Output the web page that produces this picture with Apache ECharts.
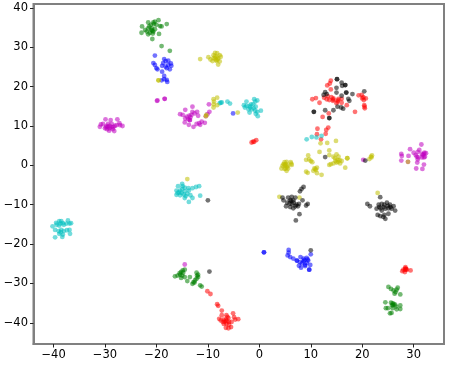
<!DOCTYPE html>
<html><head><meta charset="utf-8">
<style>html,body{margin:0;padding:0;background:#fff}#c{width:449px;height:365px;filter:blur(0.35px)}</style>
<script src="https://cdn.jsdelivr.net/npm/echarts@6/dist/echarts.min.js"></script>
</head><body><div id="c"></div>
<script>
const xTicks=[-40,-30,-20,-10,0,10,20,30];
const yTicks=[-40,-30,-20,-10,0,10,20,30,40];
const greenPoints=[[-22.8,35.3],[-21.6,36.3],[-20.6,36.3],[-20.3,36.5],[-19.6,36.9],[-18,35.9],[-19.3,35.4],[-19,35.3],[-21.6,34.8],[-22.2,34.4],[-22.9,33.7],[-21.9,34],[-21.3,33.7],[-20.6,34],[-20.3,34.6],[-19.5,33.4],[-20.8,32.1],[-21.6,33.3],[-20.9,34.8],[-20,35.7],[-21.1,35.7],[-20.5,35.9],[-20.8,34.2],[-21.4,35.3],[-20.7,33.5],[-21,34.4],[-19,30.3],[-17.4,29.1],
[-16.4,-28.2],[-15.9,-28],[-15.4,-27.8],[-14.9,-26.7],[-14.5,-26.5],[-15.2,-27.1],[-14.8,-27.3],[-15.2,-28.6],[-14.5,-28.4],[-14,-29.4],[-13.5,-28.4],[-12.8,-29.7],[-12.2,-27.3],[-11.9,-28.4],[-12.2,-28.8],[-12.5,-29.2],[-13,-30.1],[-11.5,-30.5],[-11.2,-30.8],[-11.9,-27.8],[-15.5,-27.4],[-15,-28],[-12.1,-28],[-12.6,-29.8],
[25.1,-30.9],[25.6,-31.4],[26.1,-31.8],[26.9,-31.1],[26.7,-31.6],[26.5,-32.2],[26.3,-32.6],[27.4,-32.8],[24.5,-34.8],[25.6,-34.9],[26.1,-35.2],[25.8,-35.6],[26.4,-35.4],[27.4,-35.6],[27.4,-36.5],[26.7,-36.6],[24.6,-36.3],[25,-36.3],[25.9,-36.3],[25.4,-37.6],[25.7,-37.5],[26,-35.5],[25.9,-35.1],[26.6,-35.9]];
const bluePoints=[[-20.3,27.9],[-20.6,26],[-20.3,25.5],[-20,24.7],[-19.8,24.4],[-18.7,26],[-18.5,27],[-17.7,26.6],[-18.2,26.5],[-18.9,25.3],[-18.2,25.1],[-17.7,25.5],[-17.2,25.9],[-17.1,25.3],[-17.4,24.4],[-18,24.7],[-18.9,23.8],[-18.5,22.7],[-18.5,21.9],[-19,21.6],[-18,21.7],[-17.9,21.2],[-5.1,13.2],
[0.9,-22.1],[0.9,-22.1],[5.7,-21.5],[5.7,-22.2],[5.5,-22.9],[6,-23.3],[6.6,-23.7],[7.3,-24.2],[7.3,-24.2],[8,-23.3],[8.6,-23.7],[9.2,-23.5],[7.9,-24.6],[8.6,-24.4],[9.5,-24.2],[10,-22.6],[8.9,-25.3],[9.9,-25.3],[8.1,-26],[7.7,-25.5],[8.9,-25.6],[9.7,-26.5],[9.2,-24.8],[8.7,-24.1],[9.4,-23.9],[8.3,-24.9],[9.7,-26.5]];
const magentaPoints=[[-19.8,16.5],[-18.4,16.9],[-19.9,16.4],[-18.4,16.9],
[-30.8,10.4],[-31,9.8],[-29.9,11.7],[-28.9,11.5],[-27.6,11.7],[-30.4,10.5],[-29.7,10],[-29.4,10.5],[-29.1,10],[-28.7,10.5],[-28.1,10],[-27.2,10.7],[-26.6,10],[-27.8,10.2],[-30,9.4],[-29.6,9.2],[-29.1,9.4],[-28.5,9.2],[-28.2,8.7],[-29.2,8.8],[-29.8,9.7],[-28.7,9.7],[-28.4,9.7],[-27.1,10.2],[-29.4,9.8],
[-15.4,13],[-14.9,12.8],[-14.4,14.1],[-13,14.9],[-13,13.6],[-12.6,13.2],[-12.1,13.6],[-11.9,12.6],[-13.2,12.8],[-14.1,12.4],[-13.6,12.6],[-14.4,11.9],[-13.8,11.7],[-13.5,11.5],[-13.5,11.5],[-13.4,12.2],[-14.5,10.9],[-13.7,10.3],[-12.8,9.8],[-12.2,10.5],[-11.7,10.7],[-11.2,11.1],[-11.5,10.3],[-10.6,10.8],[-9.8,15.5],[-9.7,13.6],[-10.1,13],[-10.4,12.5],
[31.5,5.3],[29.3,4.1],[31.1,3.9],[30.8,3.4],[30,3.2],[32.1,3.2],[32.4,3.1],[31.6,2.9],[30.4,2.6],[27.6,2.9],[27.7,2.4],[29,2.4],[30.6,2.2],[31.6,2],[32,2],[32.2,2.2],[30.8,1.5],[27.6,1.2],[30.7,0.7],[32,0.2],[30.5,-0.8],[31.7,-0.9],[28.9,0.9],[20.2,1.4],[-14.5,-25.2],[31.8,2.6],[32,2.9],[30.9,2]];
const yellowPoints=[[-19.6,21.6],[-19.6,21.6],[-10.4,12.5],[-10.3,12.8],[-8.9,16.8],[-8.2,17.2],[-8.9,15.5],[-8.2,15.3],[-8.9,14.7],[-8.8,16.2],
[-11.5,27],[-9.9,27.5],[-9.5,26.9],[-9.1,26.5],[-8.9,28],[-8.6,28.6],[-8.2,28.5],[-7.7,28],[-7.5,27.6],[-8.6,27.2],[-8,27.2],[-8.3,27.6],[-8.9,27.2],[-8.3,26.5],[-7.7,26.4],[-8,25.6],[-8.4,26.8],[-8.6,27.7],[-8.1,26.9],[-14,-3.5],[-4.2,13.4],
[11.9,5.6],[13.2,5.7],[14.9,6.2],
[4.9,0.8],[5.3,0.9],[6.1,0.8],[6.3,0.1],[4.5,-0.1],[5,-0.1],[5.5,-0.1],[4.3,-0.8],[4.9,-0.9],[5.3,-1.4],[5.6,-0.8],[4.7,0.3],[5.2,0.3],[5.1,-0.8],[4.9,0.2],[5.4,-0.4],[6.2,0.4],
[9.5,2.5],[9.1,1.4],[9.7,1.5],[10,1.1],[10.3,0.8],[11.7,3.4],[13.6,3.8],[13.6,2.6],[10.7,-0.8],[11,-1.2],[11.2,-0.6],[9.1,-1.6],[9.4,-1.9],[10.5,-1.4],[12.1,-2.4],[11.2,-2],[10.9,-0.9],
[14.4,2.2],[15,2.8],[14.7,1.8],[15.2,1.4],[16,1.1],[15,0.7],[15.7,0.5],[14.4,0.5],[13.6,0.1],[13.9,0.3],[17.1,1.8],[17.1,1.8],[16.7,-0.6],[15.4,2.2],[14.8,1.1],[15.3,0.9],[15.6,1.3],
[21.7,2.2],[21.9,2.5],[21.4,1.6],[21.8,2],[28.9,0.9],[3.9,-8],[7.8,-8.2],[23,-7]];
const cyanPoints=[[-7.7,15.8],[-7.3,16],[-7.5,15.9],[-6.2,16.2],[-5.7,15.7],[-2.5,16.2],[-3,15.3],[-1,16.8],[-0.4,16.5],[-0.8,16.2],[-1.6,15.5],[-2.5,15.1],[-2.8,14.7],[-1.8,14.7],[-0.7,14.9],[-2.1,14.2],[-0.8,13.9],[0.3,13.9],[-0.4,13.6],[-1.9,13.4],[-0.7,13.1],[-0.3,12.5],[-1.2,15.5],[-1.5,14.2],[-1.9,15.1],[-1.1,14.5],
[9.2,6.6],[10.2,7.2],[11.1,7.1],[12.1,7.5],
[-15,-4.7],[-15.8,-5.3],[-14.9,-5.3],[-14.5,-5.7],[-13.8,-5.8],[-13,-5.8],[-12.3,-5.5],[-11.7,-5.3],[-16.1,-6.4],[-15.4,-6.4],[-15.9,-7],[-15.1,-7],[-14.5,-6.6],[-14,-7.2],[-16.1,-7.5],[-15.4,-7.6],[-14.3,-7.8],[-13.4,-7.6],[-13,-8.3],[-14.5,-8.3],[-13.7,-9.3],[-11.5,-7.7],[-15.6,-6.9],[-15,-6],[-14.7,-7.4],[-13.7,-6.4],
[-40.2,-15.5],[-39.5,-14.6],[-38.9,-14.2],[-38.5,-14.2],[-37.2,-14],[-36.6,-14.7],[-39.4,-15.1],[-38.7,-14.8],[-38,-15.1],[-37.5,-14.8],[-36.9,-14.8],[-39.7,-16.4],[-39,-16.7],[-38.6,-17],[-38,-16.7],[-37.4,-16.5],[-36.9,-16.4],[-36.8,-17.4],[-38.2,-17.6],[-38.3,-18.2],[-39.7,-18.3],[-38.9,-17.4],[-38.5,-16.4],[-38.2,-14.7],[-38.9,-15.3]];
const redPoints=[[-1.5,5.8],[-1,6],[-0.6,6.4],[-1.2,6],
[13.9,21.5],[13.7,20.8],[13.2,20.3],[13.9,19.3],[10.3,16.8],[11,17.1],[11.7,15.9],[12.6,17.2],[13.1,16.8],[13.6,16.6],[14.4,17],[14.3,16.4],[15,15.8],[15.4,16.9],[16,16.9],[16,15.9],[15.2,16.2],[17,15.3],[19.3,17.8],[19.9,17.9],[20,17],[20.7,17],[20.3,16.6],[20.4,15.3],[20.5,14.5],[18.6,13.6],[13.5,13.2],[12.3,12.3],[14,17.3],[14.4,16.7],[13.3,17.6],[15.3,16.5],[20.2,17.3],[20.45,14.9],
[11.3,9.3],[13.4,9.6],[13,9],[11.2,7.9],[12.9,8],[12,6.6],
[-10.1,-32],[-9.5,-32.7],[-8.2,-35.3],[-8,-35.7],[-7.3,-36.9],[-7.3,-38.1],[-7.8,-39],[-7.5,-39.4],[-7.1,-39.8],[-6.9,-39.2],[-6.9,-40.3],[-5.1,-37.6],[-6.4,-38.1],[-4.9,-38.6],[-6,-38.8],[-4.1,-39.1],[-4.7,-39.2],[-6.5,-39.2],[-5.9,-39.8],[-5.4,-39.8],[-6.4,-40.3],[-5.5,-41.1],[-6,-41.4],[-6.5,-41.3],[-5.9,-40.5],[-6.3,-39.6],[-6.7,-39.7],[-6.2,-38.5],
[28.4,-25.9],[28,-26.5],[28.7,-26.5],[29.4,-26.7],[28.3,-27.1],[27.8,-26.9],[28.4,-26.5],[28.4,-26.2],[28.5,-26.4]];
const blackPoints=[[15.1,21.9],[16,21],[16.7,20.4],[16.1,20.2],[15,19.7],[12.8,18.6],[12.5,17.9],[13.1,18.1],[15,18.5],[16.9,18.5],[16,17.7],[18.1,18.1],[17.3,16.9],[17.5,16.4],[20.4,18.8],[15.9,14.7],[15.2,14.9],[14.4,14],[16.3,14.4],[12.8,14],[10.6,13.6],[13.6,12],[15.1,21.9],[16.7,20.4],[16.9,18.5],[10.6,13.6],[13.6,12],
[12.8,2.1],[20.6,1.2],[-10,-8.9],[-9.7,-27],[10,-21.6],
[8.6,-5.5],[8.2,-6],[7.9,-6.6],[4.5,-8.2],[4.7,-8.9],[5.6,-8.2],[6.3,-8],[7,-8.2],[6,-8.9],[6.6,-8.9],[5.4,-9.5],[6.3,-9.8],[7,-10.4],[7.5,-10.4],[7.7,-9.8],[8.4,-8.9],[9.4,-9.8],[9.1,-10.2],[5.2,-10.4],[6,-10.6],[6.6,-10.9],[7.8,-12.4],[7.1,-14],[6.2,-9],[6.7,-9.5],[5.9,-9.7],[7.2,-10],
[23.5,-8.1],[21,-9.8],[21.5,-10.4],[23.2,-10],[22.8,-11],[23.3,-10.6],[23.8,-9.8],[24.3,-10],[24.8,-9.5],[25.4,-10],[26.1,-10.4],[26.4,-11.5],[25.7,-11],[25.1,-10.9],[24.5,-11],[23.8,-11.5],[23,-12.6],[23.5,-12.9],[24.3,-12.6],[24.5,-13.6],[24.1,-13.1],[25.1,-12.3],[24.2,-10.6],[25,-10.3],[23.6,-10.9],[25.5,-10.6]];
const groups=[[bluePoints,'rgb(0,0,255)'],[greenPoints,'rgb(0,128,0)'],[redPoints,'rgb(255,0,0)'],[cyanPoints,'rgb(0,191,191)'],[magentaPoints,'rgb(191,0,191)'],[yellowPoints,'rgb(191,191,0)'],[blackPoints,'rgb(0,0,0)']];
const fmt=v=>String(v).replace('-','\u2212');
function axis(ticks,min,max){return{type:'value',min,max,splitLine:{show:false},
 axisLine:{show:true,onZero:false,lineStyle:{color:'#808080',width:2}},
 axisTick:{show:true,length:3.5,customValues:ticks,lineStyle:{color:'#222',width:1}},
 axisLabel:{customValues:ticks,formatter:fmt,color:'#000',fontFamily:'DejaVu Sans',fontSize:11.5,margin:5.5}};}
const chart=echarts.init(document.getElementById('c'),null,{renderer:'canvas'});
chart.setOption({animation:false,backgroundColor:'#fff',
 grid:{show:true,left:33.5,right:5,top:4,bottom:21,borderColor:'#808080',borderWidth:2,backgroundColor:'#fff'},
 xAxis:axis(xTicks,-43.9,35.9),yAxis:axis(yTicks,-45.4,41),
 series:groups.map(([d,c])=>({type:'scatter',data:d,symbolSize:4.8,itemStyle:{color:c,opacity:0.55},emphasis:{disabled:true}}))});
</script></body></html>
